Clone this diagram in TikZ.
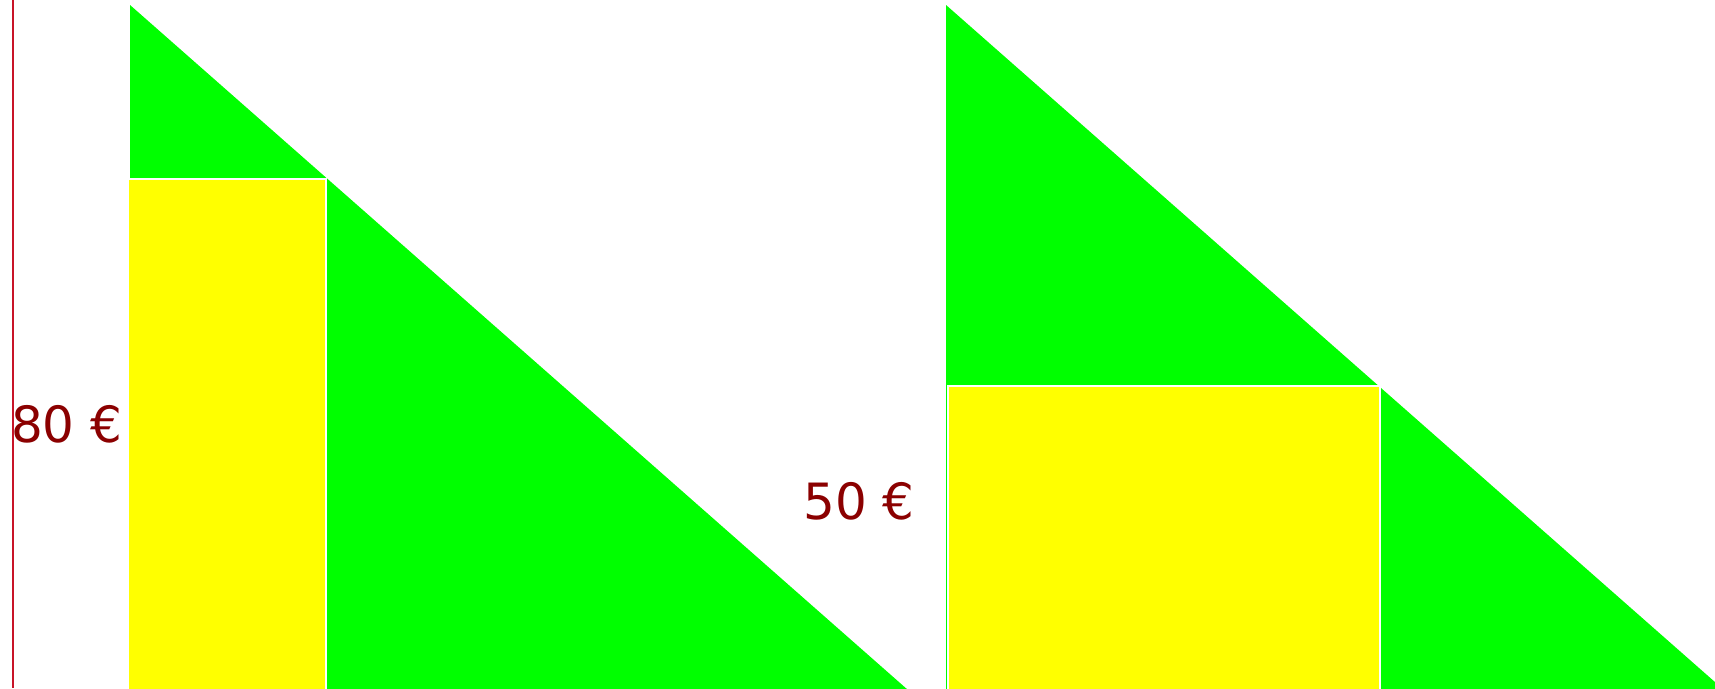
\documentclass[tikz,border=0pt]{standalone}
\usepackage{fontspec}
\setmainfont{DejaVu Sans}
\definecolor{trigreen}{RGB}{0,255,0}
\definecolor{boxyellow}{RGB}{255,255,0}
\definecolor{pricered}{RGB}{139,0,0}
\definecolor{axisred}{RGB}{200,20,40}
\begin{document}
\begin{tikzpicture}[x=1pt,y=-1pt,
  tri/.style={fill=trigreen},
  box/.style={fill=boxyellow,draw=white,line width=1.6pt},
  price/.style={text=pricered,font=\fontsize{50}{50}\selectfont,inner sep=0pt},
  axis/.style={draw=axisred,line width=1.4pt}]
\useasboundingbox (0,0) rectangle (1715,688);
\fill[white] (0,0) rectangle (1715,688);
% left triangle and box
\fill[tri] (130,5) -- (130,690) -- (908,690) -- cycle;
\draw[box] (128,179) rectangle (326,692);
% right triangle and box
\fill[tri] (946,5) -- (946,690) -- (1724,690) -- cycle;
\draw[box] (948,386) rectangle (1380,692);
% axis line
\coordinate (axtop) at (13,0);
\coordinate (axbot) at (13,688);
\draw[axis] (axtop) -- (axbot);
% labels
\node[price,anchor=west] (p80) at (11,424) {80 €};
\node[price,anchor=east] (p50) at (915,501) {50 €};
\end{tikzpicture}
\end{document}
